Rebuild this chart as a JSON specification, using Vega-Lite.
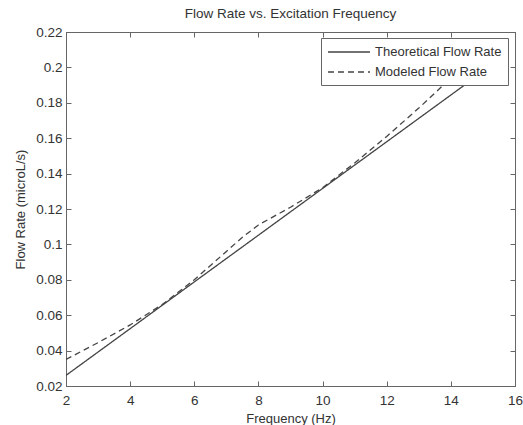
{
  "$schema": "https://vega.github.io/schema/vega-lite/v6.json",
  "width": 449,
  "height": 354,
  "autosize": {"type": "none"},
  "padding": {"left": 66, "top": 32, "right": 8, "bottom": 39},
  "background": "white",
  "title": {"text": "Flow Rate vs. Excitation Frequency", "font": "Liberation Sans", "fontSize": 13.5, "fontWeight": "normal", "color": "#333", "offset": -9, "baseline": "bottom"},
  "config": {
    "view": {"stroke": "#666", "strokeWidth": 1},
    "axis": {
      "grid": false, "domainColor": "#666", "tickColor": "#666", "tickSize": -5, "tickWidth": 1,
      "labelFont": "Liberation Sans", "labelFontSize": 13.5, "labelColor": "#333",
      "titleFont": "Liberation Sans", "titleFontSize": 13, "titleFontWeight": "normal", "titleColor": "#333"
    }
  },
  "data": {"values": [
    {"f": 2, "q": 0.026, "series": "Theoretical Flow Rate"},
    {"f": 3, "q": 0.0392, "series": "Theoretical Flow Rate"},
    {"f": 4, "q": 0.0524, "series": "Theoretical Flow Rate"},
    {"f": 5, "q": 0.0656, "series": "Theoretical Flow Rate"},
    {"f": 6, "q": 0.0788, "series": "Theoretical Flow Rate"},
    {"f": 7, "q": 0.092, "series": "Theoretical Flow Rate"},
    {"f": 8, "q": 0.1052, "series": "Theoretical Flow Rate"},
    {"f": 9, "q": 0.1184, "series": "Theoretical Flow Rate"},
    {"f": 10, "q": 0.1316, "series": "Theoretical Flow Rate"},
    {"f": 11, "q": 0.1448, "series": "Theoretical Flow Rate"},
    {"f": 12, "q": 0.158, "series": "Theoretical Flow Rate"},
    {"f": 13, "q": 0.1712, "series": "Theoretical Flow Rate"},
    {"f": 14, "q": 0.1844, "series": "Theoretical Flow Rate"},
    {"f": 15, "q": 0.1976, "series": "Theoretical Flow Rate"},
    {"f": 2, "q": 0.035, "series": "Modeled Flow Rate"},
    {"f": 3, "q": 0.0445, "series": "Modeled Flow Rate"},
    {"f": 4, "q": 0.0545, "series": "Modeled Flow Rate"},
    {"f": 5, "q": 0.066, "series": "Modeled Flow Rate"},
    {"f": 6, "q": 0.08, "series": "Modeled Flow Rate"},
    {"f": 7, "q": 0.096, "series": "Modeled Flow Rate"},
    {"f": 7.5, "q": 0.104, "series": "Modeled Flow Rate"},
    {"f": 8, "q": 0.111, "series": "Modeled Flow Rate"},
    {"f": 9, "q": 0.121, "series": "Modeled Flow Rate"},
    {"f": 10, "q": 0.132, "series": "Modeled Flow Rate"},
    {"f": 11, "q": 0.146, "series": "Modeled Flow Rate"},
    {"f": 12, "q": 0.161, "series": "Modeled Flow Rate"},
    {"f": 13, "q": 0.177, "series": "Modeled Flow Rate"},
    {"f": 14, "q": 0.194, "series": "Modeled Flow Rate"},
    {"f": 15, "q": 0.211, "series": "Modeled Flow Rate"}
  ]},
  "layer": [
    {
      "mark": {"type": "line", "color": "#444", "strokeWidth": 1.3, "clip": true},
      "encoding": {
        "x": {"field": "f", "type": "quantitative", "title": "Frequency (Hz)",
              "scale": {"domain": [2, 16], "nice": false, "zero": false},
              "axis": {"orient": "bottom", "values": [2, 4, 6, 8, 10, 12, 14, 16], "labelPadding": 12, "titlePadding": 6, "labelFlush": false}},
        "y": {"field": "q", "type": "quantitative", "title": "Flow Rate (microL/s)",
              "scale": {"domain": [0.02, 0.22], "nice": false, "zero": false},
              "axis": {"orient": "left", "values": [0.02, 0.04, 0.06, 0.08, 0.1, 0.12, 0.14, 0.16, 0.18, 0.2, 0.22], "format": "~g", "labelPadding": 9, "titlePadding": 8, "labelFlush": false}},
        "strokeDash": {"field": "series", "type": "nominal",
                       "scale": {"domain": ["Theoretical Flow Rate", "Modeled Flow Rate"], "range": [[1, 0], [6, 4]]},
                       "legend": {"title": null, "orient": "none", "legendX": 255, "legendY": 6,
                                  "fillColor": "white", "strokeColor": "#666", "padding": 6, "rowPadding": 5,
                                  "symbolType": "M-1,0H5", "symbolSize": 196, "symbolStrokeColor": "#444", "symbolStrokeWidth": 1.3,
                                  "labelOffset": 32, "labelFont": "Liberation Sans", "labelFontSize": 13, "labelColor": "#333", "labelLimit": 300}},
        "detail": {"field": "series"}
      }
    },
    {
      "mark": {"type": "line", "opacity": 0},
      "encoding": {
        "x": {"field": "f", "type": "quantitative", "axis": {"orient": "top", "values": [2, 4, 6, 8, 10, 12, 14, 16], "labels": false, "title": null}},
        "y": {"field": "q", "type": "quantitative", "axis": {"orient": "right", "values": [0.02, 0.04, 0.06, 0.08, 0.1, 0.12, 0.14, 0.16, 0.18, 0.2, 0.22], "labels": false, "title": null}},
        "detail": {"field": "series"}
      }
    }
  ],
  "resolve": {"axis": {"x": "independent", "y": "independent"}}
}
